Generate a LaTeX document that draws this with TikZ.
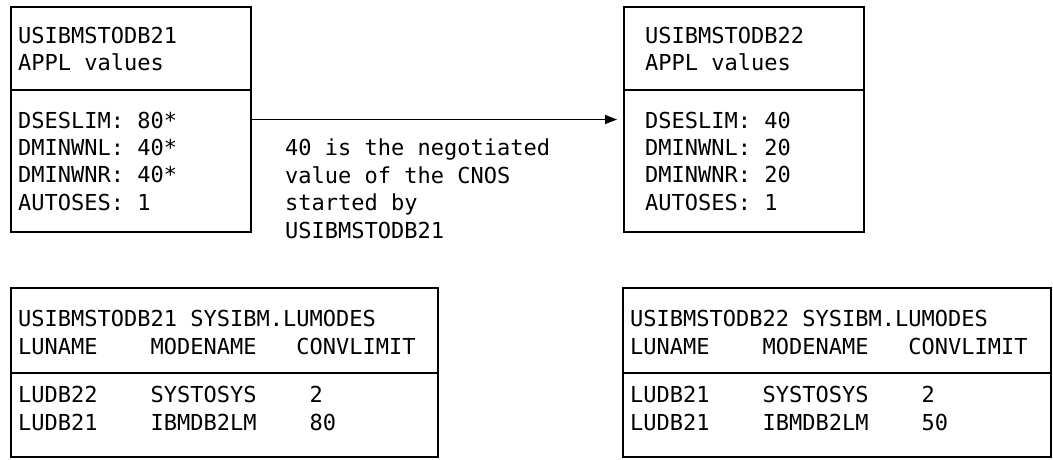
\documentclass[tikz,border=0pt]{standalone}
\usepackage{fontspec}
\setmonofont{DejaVu Sans Mono}
\usetikzlibrary{arrows.meta}
\begin{document}
\begin{tikzpicture}[x=1pt,y=-1pt,
  box/.style={draw, line width=1.6pt, inner sep=0pt, outer sep=0pt, anchor=north west},
  divider/.style={line width=1.6pt},
  txt/.style={anchor=base west, inner sep=0pt, font=\ttfamily\fontsize{22}{28}\selectfont},
  conn/.style={line width=1.5pt, -{Triangle[length=12pt,width=9pt]}}]
\useasboundingbox (0,0) rectangle (1053,459);
% top left box
\node[box, minimum width=240pt, minimum height=225pt] (b1) at (11,7) {};
\draw[divider] (11,90) -- (251,90);
\node[txt] (b1t1) at (18,43) {USIBMSTODB21};
\node[txt] (b1t2) at (18,70.5) {APPL values};
\node[txt] (b1v1) at (18,128) {DSESLIM: 80*};
\node[txt] (b1v2) at (18,155.3) {DMINWNL: 40*};
\node[txt] (b1v3) at (18,182.6) {DMINWNR: 40*};
\node[txt] (b1v4) at (18,210) {AUTOSES: 1};
% top right box
\node[box, minimum width=240pt, minimum height=225pt] (b2) at (624,7) {};
\draw[divider] (624,90) -- (864,90);
\node[txt] (b2t1) at (645,43) {USIBMSTODB22};
\node[txt] (b2t2) at (645,70.5) {APPL values};
\node[txt] (b2v1) at (645,128) {DSESLIM: 40};
\node[txt] (b2v2) at (645,155.3) {DMINWNL: 20};
\node[txt] (b2v3) at (645,182.6) {DMINWNR: 20};
\node[txt] (b2v4) at (645,210) {AUTOSES: 1};
% connector
\coordinate (tip) at ([xshift=-7pt]b2.west);
\draw[conn] (b1.east) -- (tip);
\node[txt] (n1) at (285,155.5) {40 is the negotiated};
\node[txt] (n2) at (285,183) {value of the CNOS};
\node[txt] (n3) at (285,210.5) {started by};
\node[txt] (n4) at (285,238) {USIBMSTODB21};
% bottom left box
\node[box, minimum width=427pt, minimum height=169pt] (b3) at (11,288) {};
\draw[divider] (11,373) -- (438,373);
\node[txt] (b3t1) at (18,326) {USIBMSTODB21 SYSIBM.LUMODES};
\node[txt] (b3t2) at (18,354) {LUNAME\ \ \ \ MODENAME\ \ \ CONVLIMIT};
\node[txt] (b3r1) at (18,402) {LUDB22\ \ \ \ SYSTOSYS\ \ \ \ 2};
\node[txt] (b3r2) at (18,430) {LUDB21\ \ \ \ IBMDB2LM\ \ \ \ 80};
% bottom right box
\node[box, minimum width=428pt, minimum height=169pt] (b4) at (623,288) {};
\draw[divider] (623,373) -- (1051,373);
\node[txt] (b4t1) at (630,326) {USIBMSTODB22 SYSIBM.LUMODES};
\node[txt] (b4t2) at (630,354) {LUNAME\ \ \ \ MODENAME\ \ \ CONVLIMIT};
\node[txt] (b4r1) at (630,402) {LUDB21\ \ \ \ SYSTOSYS\ \ \ \ 2};
\node[txt] (b4r2) at (630,430) {LUDB21\ \ \ \ IBMDB2LM\ \ \ \ 50};
\end{tikzpicture}
\end{document}
